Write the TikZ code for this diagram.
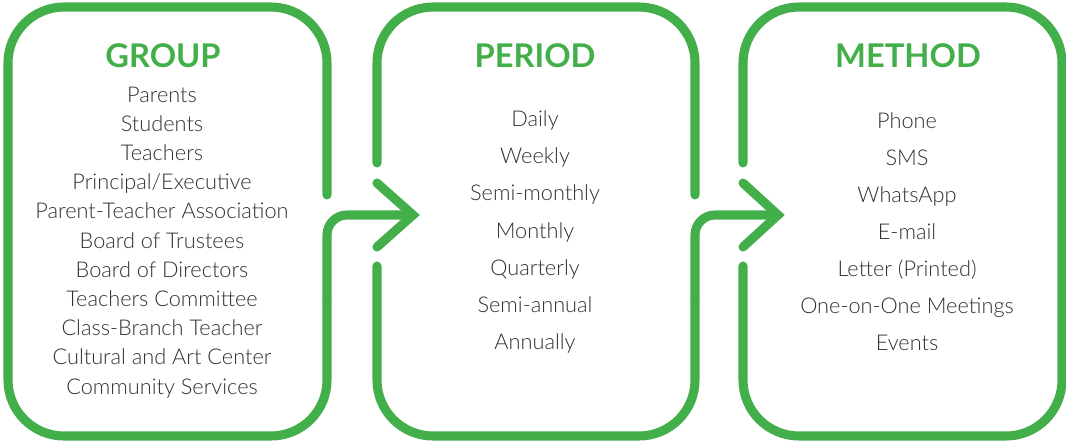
\documentclass[tikz,border=0pt]{standalone}
\usepackage{fontspec}
\setmainfont{Lato}
\newfontfamily\itemfont{Lato Light}
\newfontfamily\headfont{Lato}[UprightFont={* Bold}]
\definecolor{leaf}{RGB}{67,175,74}
\definecolor{ink}{RGB}{48,48,48}
\begin{document}
\begin{tikzpicture}[x=0.75pt,y=-0.75pt,
  outline/.style={draw=leaf,line width=6.8pt,line cap=round,line join=round},
  bigcorner/.style={outline,rounded corners=42},
  smallcorner/.style={outline,rounded corners=15},
  chevron/.style={outline,line join=miter},
  heading/.style={anchor=base,inner sep=0pt,text=leaf,font=\headfont\fontsize{24.5pt}{24.5pt}\selectfont},
  entry/.style={anchor=base,inner sep=0pt,text=ink,font=\itemfont\fontsize{16.3pt}{16.3pt}\selectfont}]
\useasboundingbox (0,0) rectangle (1066,446);

% box 1 (group)
\draw[bigcorner] (327,195) -- (327,7) -- (8,7) -- (8,436) -- (327,436) -- (327,300);
\draw[smallcorner] (327,300) -- (327,215) -- (413,215);
\draw[chevron] (377,183) -- (413,215) -- (377,247);

% box 2 (period)
\draw[bigcorner] (377,163) -- (377,7) -- (695,7) -- (695,195);
\draw[bigcorner] (377,266) -- (377,436) -- (695,436) -- (695,300);
\draw[smallcorner] (695,300) -- (695,215) -- (778,215);
\draw[chevron] (743,183) -- (778,215) -- (743,247);

% box 3 (method)
\draw[bigcorner] (743,163) -- (743,7) -- (1062,7) -- (1062,436) -- (743,436) -- (743,266);

% headings
\node[heading] (hgroup) at (163,67.5) {GROUP};
\node[heading] (hperiod) at (535,67) {PERIOD};
\node[heading] (hmethod) at (908,67) {METHOD};

% group entries
\foreach \t [count=\i from 0] in {Parents,Students,Teachers,Principal/Executive,
  Parent-Teacher Association,Board of Trustees,Board of Directors,Teachers Committee,
  Class-Branch Teacher,Cultural and Art Center,Community Services}
  \node[entry] (g\i) at (162,102+29.2*\i) {\t};

% period entries
\foreach \t [count=\i from 0] in {Daily,Weekly,Semi-monthly,Monthly,Quarterly,Semi-annual,Annually}
  \node[entry] (p\i) at (535,126.5+37.2*\i) {\t};

% method entries
\foreach \t [count=\i from 0] in {Phone,SMS,WhatsApp,E-mail,Letter (Printed),One-on-One Meetings,Events}
  \node[entry] (m\i) at (907,128+37*\i) {\t};
\end{tikzpicture}
\end{document}
